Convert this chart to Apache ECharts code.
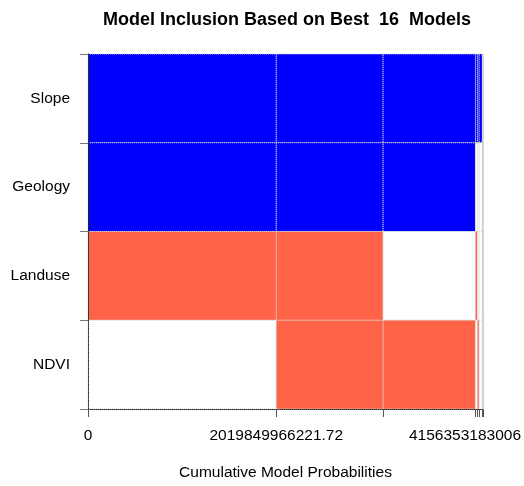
<!DOCTYPE html>
<html>
<head>
<meta charset="utf-8">
<script src="https://cdn.jsdelivr.net/npm/echarts@6/dist/echarts.min.js"></script>
<style>html,body{margin:0;padding:0;background:#fff;}#c{width:524px;height:486px;}</style>
</head>
<body>
<div id="c"></div>
<script>
// ---- data ----
const variables = ['Slope', 'Geology', 'Landuse', 'NDVI'];
// posterior model weights (in the units used by the x tick labels)
const modelProbs = [2019849966221.72, 1145900000000, 990603216784.28, 21400000000, 18200000000,
  34000000000, 3000000000, 2000000000, 500000000, 400000000, 300000000, 200000000,
  200000000, 100000000, 100000000, 100000000];
// sign of coefficient when included: 1 positive (blue), -1 negative (red), 0 not in model
const slopeInc   = [1, 1, 1, 1, 1, 1, 1, 1, 0, 0, 0, 0, 0, 0, 0, 0];
const geologyInc = [1, 1, 1, 0, 0, 0, 0, 1, 1, 1, 1, 1, 0, 0, 0, 0];
const landuseInc = [-1, -1, 0, -1, 0, 0, -1, 0, -1, -1, 0, 0, -1, -1, 0, 0];
const ndviInc    = [0, -1, -1, 0, -1, 0, -1, 0, -1, 0, -1, 0, -1, 0, -1, 0];
const xTickLabels = ['0', '2019849966221.72', '', '4156353183006'];

// ---- build ----
const inclusion = [slopeInc, geologyInc, landuseInc, ndviInc];
const bounds = [0];
modelProbs.forEach(p => bounds.push(bounds[bounds.length - 1] + p));
const total = bounds[bounds.length - 1];
const cells = [];
inclusion.forEach((row, r) => {
  row.forEach((s, j) => cells.push([bounds[j], bounds[j + 1], r, s]));
});
const labelVals = [];
const labelTexts = [];
xTickLabels.forEach((t, i) => { if (t !== '') { labelVals.push(bounds[i]); labelTexts.push(t); } });

const FONT = "'Liberation Sans', Arial, sans-serif";
const chart = echarts.init(document.getElementById('c'), null, { renderer: 'canvas' });
chart.setOption({
  animation: false,
  backgroundColor: '#ffffff',
  title: {
    text: 'Model Inclusion Based on Best  16  Models',
    left: 282, top: 6, textAlign: 'center',
    textStyle: { fontFamily: FONT, fontSize: 18, fontWeight: 'bold', color: '#000' }
  },
  grid: { left: 88, right: 38, top: 54, bottom: 74, containLabel: false },
  xAxis: {
    type: 'value', min: 0, max: total, z: 5,
    name: 'Cumulative Model Probabilities', nameLocation: 'middle', nameGap: 56,
    nameTextStyle: { fontFamily: FONT, fontSize: 15.5, color: '#000' },
    splitLine: { show: false },
    axisLine: { show: true, lineStyle: { color: '#222', type: [1, 1], width: 1 } },
    axisTick: { show: true, length: 8, customValues: bounds, lineStyle: { color: '#555' } },
    axisLabel: {
      customValues: labelVals, margin: 19, fontFamily: FONT, fontSize: 15.5, color: '#000',
      formatter: function (v) {
        let best = 0;
        labelVals.forEach((lv, i) => { if (Math.abs(lv - v) < Math.abs(labelVals[best] - v)) best = i; });
        if (best === labelVals.length - 1 && labelVals.length > 2) return '{r|' + labelTexts[best] + '}';
        return labelTexts[best];
      },
      rich: { r: { fontFamily: FONT, fontSize: 15.5, color: '#000', padding: [0, 21, 0, 0] } }
    }
  },
  yAxis: {
    type: 'category', data: variables, inverse: true, z: 5,
    axisLine: { show: true, lineStyle: { color: '#222', type: [1, 1], width: 1 } },
    axisTick: { show: true, length: 8, lineStyle: { color: '#777' } },
    splitLine: { show: false },
    axisLabel: { fontFamily: FONT, fontSize: 15.5, color: '#000', margin: 18 }
  },
  series: [{
    type: 'custom',
    encode: { x: [0, 1], y: 2 },
    data: cells,
    renderItem: function (params, api) {
      const a = api.coord([api.value(0), api.value(2)]);
      const b = api.coord([api.value(1), api.value(2)]);
      const h = api.size([0, 1])[1];
      const s = api.value(3);
      return {
        type: 'rect',
        shape: { x: a[0], y: a[1] - h / 2, width: b[0] - a[0], height: h },
        style: {
          fill: s > 0 ? '#0000FF' : (s < 0 ? '#FF6347' : '#FFFFFF'),
          stroke: '#d4d4d4', lineWidth: 1, lineDash: [1, 1]
        }
      };
    }
  }]
});
</script>
</body>
</html>
